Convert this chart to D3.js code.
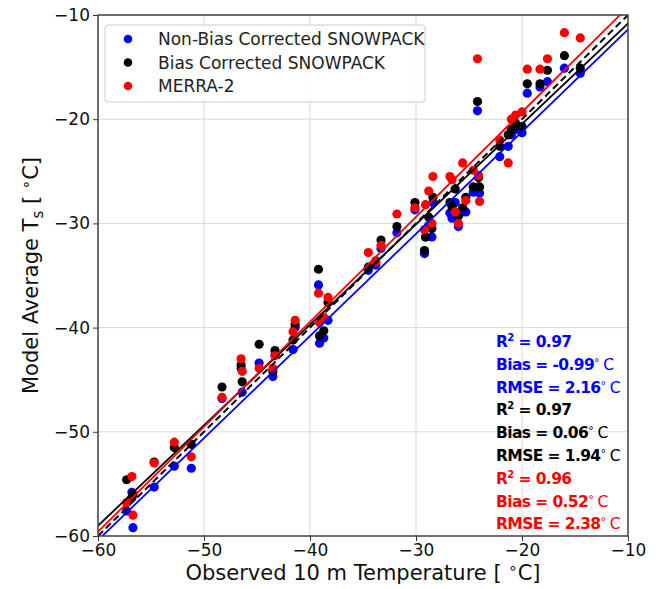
<!DOCTYPE html>
<html><head><meta charset="utf-8">
<script src="https://cdn.jsdelivr.net/npm/d3@7"></script>
<style>
html,body{margin:0;padding:0;background:#fff;}
svg text{font-family:"DejaVu Sans",sans-serif;}
</style></head>
<body><svg id="c" width="659" height="589"></svg>
<script>
// ---- data ----
const observed = [-57.3,-56.8,-56.7,-54.7,-52.8,-51.2,-48.3,-46.5,-46.4,-44.8,-43.3,-43.5,-41.6,-41.4,-39.2,-38.3,-39.1,-38.7,-34.5,-33.8,-33.3,-31.8,-30.1,-29.2,-29.1,-28.8,-28.5,-28.4,-26.8,-26.6,-26.3,-26.0,-25.6,-25.3,-24.6,-24.2,-24.1,-24.0,-22.1,-21.3,-21.0,-20.6,-20.0,-19.5,-18.3,-17.6,-16.0,-14.5];
const nonBiasSnowpack = [-57.6,-55.8,-59.2,-55.3,-53.3,-53.5,-46.8,-43.9,-46.2,-43.4,-42.6,-44.7,-42.1,-40.0,-35.9,-39.3,-41.5,-41.0,-34.5,-34.0,-32.4,-30.9,-28.7,-32.9,-31.3,-30.2,-31.3,-28.0,-29.0,-29.5,-28.0,-30.3,-28.9,-28.9,-27.0,-19.2,-26.5,-27.1,-23.6,-22.6,-21.5,-21.0,-21.3,-17.5,-16.9,-16.4,-15.1,-15.6];
const biasSnowpack    = [-54.6,-56.3,-56.0,-52.9,-51.5,-51.2,-45.7,-43.6,-45.2,-41.6,-42.2,-44.2,-41.2,-39.7,-34.4,-37.6,-40.8,-40.3,-34.2,-33.6,-31.6,-30.3,-28.0,-32.6,-31.3,-29.4,-30.5,-27.5,-28.0,-28.4,-26.7,-29.3,-28.5,-27.5,-26.5,-18.3,-25.6,-26.5,-22.6,-21.5,-21.0,-20.4,-20.7,-16.6,-16.6,-15.3,-13.9,-15.1];
const merra2          = [-56.8,-54.3,-58.0,-53.0,-51.0,-52.4,-46.7,-43.0,-44.2,-43.9,-42.7,-43.9,-40.4,-39.3,-36.7,-37.1,-39.5,-39.0,-32.8,-33.7,-32.1,-29.1,-28.5,-30.6,-28.2,-26.9,-30.0,-25.5,-25.5,-25.8,-28.9,-30.0,-24.2,-27.8,-24.9,-14.2,-25.4,-27.9,-22.0,-24.2,-20.0,-19.6,-19.3,-15.2,-15.2,-14.2,-11.7,-12.2];

const seriesNames = ["Non-Bias Corrected SNOWPACK","Bias Corrected SNOWPACK","MERRA-2"];
const seriesColors = ["#0000ff","#000000","#ff0000"];
const fitSlopes = [0.98, 0.964, 1.007];
const fitIntercepts = [-1.6, -1.17, 0.83];
const r2Labels = ["0.97","0.97","0.96"];
const biasLabels = ["-0.99","0.06","0.52"];
const rmseLabels = ["2.16","1.94","2.38"];
const xTicks = [-60,-50,-40,-30,-20,-10];
const yTicks = [-60,-50,-40,-30,-20,-10];

// ---- layout ----
const L=98, R=628, T=15, B=536;
const svg = d3.select("#c");
const x = d3.scaleLinear().domain([-60,-10]).range([L,R]);
const y = d3.scaleLinear().domain([-60,-10]).range([B,T]);
const fmt = d => d3.format("d")(d).replace("-","\u2212");

// grid
svg.append("g").selectAll("line").data(xTicks).join("line")
  .attr("x1",d=>x(d)).attr("x2",d=>x(d)).attr("y1",T).attr("y2",B)
  .attr("stroke","#d9d9d9").attr("stroke-width",1);
svg.append("g").selectAll("line").data(yTicks).join("line")
  .attr("y1",d=>y(d)).attr("y2",d=>y(d)).attr("x1",L).attr("x2",R)
  .attr("stroke","#d9d9d9").attr("stroke-width",1);

// clip
svg.append("clipPath").attr("id","clip").append("rect")
  .attr("x",L).attr("y",T).attr("width",R-L).attr("height",B-T);
const plot = svg.append("g").attr("clip-path","url(#clip)");

const series = [nonBiasSnowpack, biasSnowpack, merra2];
// points
series.forEach((vals,i)=>{
  plot.append("g").selectAll("circle").data(vals).join("circle")
    .attr("cx",(d,j)=>x(observed[j])).attr("cy",d=>y(d)).attr("r",4.6)
    .attr("fill",seriesColors[i]);
});
// 1:1 line
const line = d3.line().x(d=>x(d[0])).y(d=>y(d[1]));
plot.append("path").attr("d",line([[-60,-60],[-10,-10]]))
  .attr("stroke","#000").attr("stroke-width",2).attr("stroke-dasharray","7,4").attr("fill","none");
// fits
series.forEach((vals,i)=>{
  const pts=[-61,-9].map(v=>[v,fitSlopes[i]*v+fitIntercepts[i]]);
  plot.append("path").attr("d",line(pts)).attr("stroke",seriesColors[i])
    .attr("stroke-width",1.8).attr("fill","none");
});

// axes
const xa = svg.append("g").attr("transform",`translate(0,${B})`)
  .call(d3.axisBottom(x).tickValues(xTicks).tickFormat(fmt).tickSize(5).tickPadding(3));
const ya = svg.append("g").attr("transform",`translate(${L},0)`)
  .call(d3.axisLeft(y).tickValues(yTicks).tickFormat(fmt).tickSize(5).tickPadding(3));
[xa,ya].forEach(a=>{
  a.select(".domain").remove();
  a.selectAll("line").attr("stroke","#333");
  a.selectAll("text").attr("font-size",17).attr("fill","#111").attr("font-family","DejaVu Sans");
});
// frame
svg.append("rect").attr("x",L).attr("y",T).attr("width",R-L).attr("height",B-T)
  .attr("fill","none").attr("stroke","#444").attr("stroke-width",1.5);

// axis labels
const xl = svg.append("text").attr("x",(L+R)/2).attr("y",580).attr("text-anchor","middle")
  .attr("font-size",21).attr("fill","#111");
xl.append("tspan").text("Observed 10 m Temperature [ ");
xl.append("tspan").text("\u2218").attr("dy",-7).attr("font-size",15);
xl.append("tspan").text("C]").attr("dy",7);

const yl = svg.append("text").attr("transform",`translate(38,${(T+B)/2}) rotate(-90)`)
  .attr("text-anchor","middle").attr("font-size",21).attr("fill","#111");
yl.append("tspan").text("Model Average T");
yl.append("tspan").text("s").attr("dy",5).attr("font-size",15);
yl.append("tspan").text(" [ ").attr("dy",-5);
yl.append("tspan").text("\u2218").attr("dy",-7).attr("font-size",15);
yl.append("tspan").text("C]").attr("dy",7);

// legend
const lg = svg.append("g");
lg.append("rect").attr("x",105).attr("y",25).attr("width",320).attr("height",77).attr("rx",3)
  .attr("fill","#fff").attr("fill-opacity",0.85).attr("stroke","#ccc");
seriesNames.forEach((n,i)=>{
  const yy = 39 + i*23.5;
  lg.append("circle").attr("cx",128).attr("cy",yy).attr("r",4.3).attr("fill",seriesColors[i]);
  lg.append("text").attr("x",158).attr("y",yy+6).attr("font-size",17).attr("fill","#222").text(n);
});

// stats
const st = svg.append("g");
seriesNames.forEach((n,i)=>{
  const base = 347 + i*3*22.8;
  const c = seriesColors[i];
  const mk = (k,yy)=>st.append("text").attr("x",496).attr("y",yy).attr("fill",c)
     .attr("font-size",15.5).attr("letter-spacing",-0.6)
     .attr("font-family","Lato, 'Liberation Sans', sans-serif").attr("font-weight","bold");
  const t1 = mk(0,base);
  t1.append("tspan").text("R");
  t1.append("tspan").text("2").attr("dy",-6).attr("font-size",10);
  t1.append("tspan").text(" = "+r2Labels[i]).attr("dy",6);
  const t2 = mk(1,base+22.8);
  t2.append("tspan").text("Bias = "+biasLabels[i]);
  t2.append("tspan").text("°").attr("font-weight","normal").attr("dy",-4).attr("font-size",11);
  t2.append("tspan").text(" C").attr("font-weight","normal").attr("dy",4);
  const t3 = mk(2,base+45.6);
  t3.append("tspan").text("RMSE = "+rmseLabels[i]);
  t3.append("tspan").text("°").attr("font-weight","normal").attr("dy",-4).attr("font-size",11);
  t3.append("tspan").text(" C").attr("font-weight","normal").attr("dy",4);
});
</script></body></html>
